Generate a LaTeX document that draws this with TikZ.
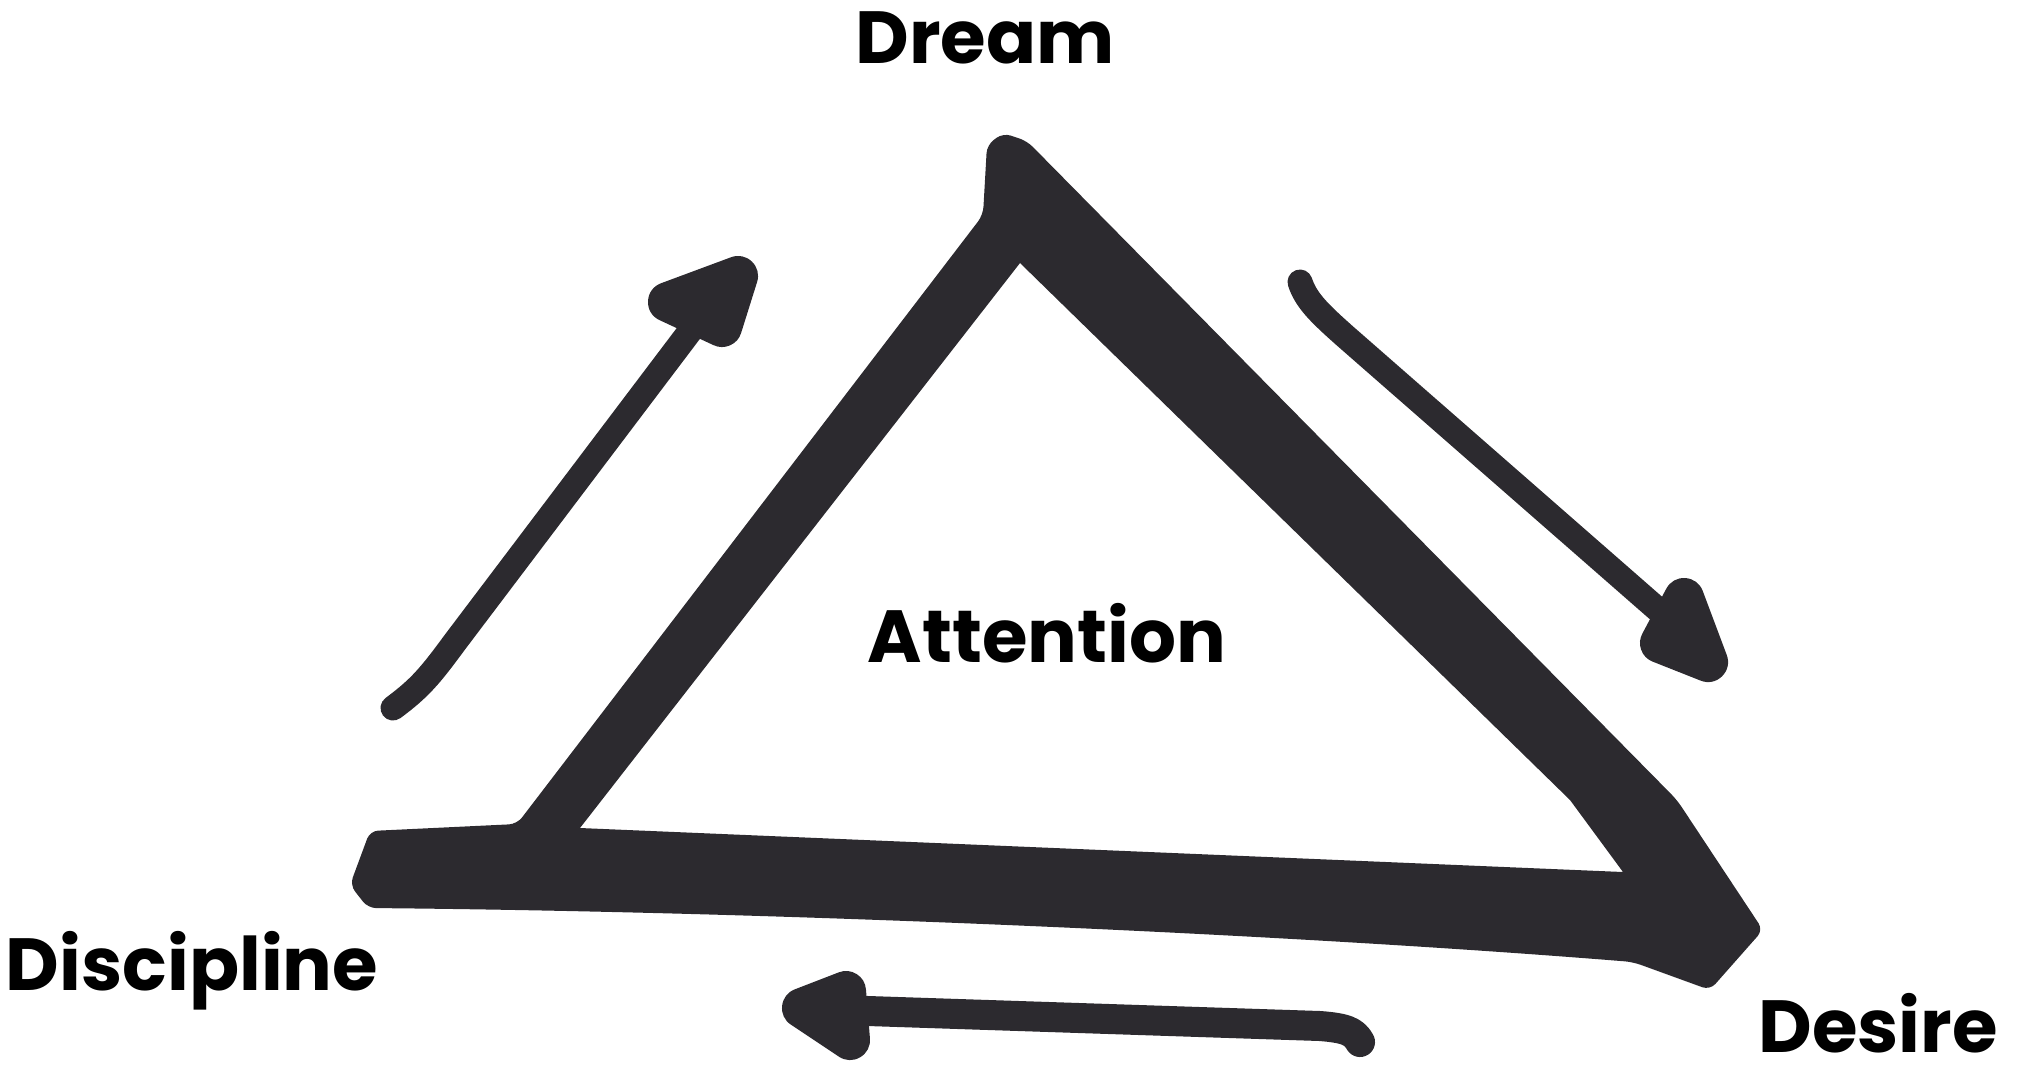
\documentclass[tikz,border=0pt]{standalone}
\usepackage{fontspec}
\setmainfont{Poppins}
\usepackage{tikz}
\definecolor{ink}{RGB}{44,42,47}
\tikzset{
    word/.style={font=\bfseries\fontsize{21}{25}\selectfont, anchor=base, inner sep=0pt},
    shaft/.style={draw=ink, line width=0.25cm, line cap=round, line join=round},
    tiphead/.style={fill=ink, draw=ink, line width=0.4cm, line join=round}
}

\begin{document}
\begin{tikzpicture}[x=0.01cm, y=-0.01cm]
    \useasboundingbox (0,0) rectangle (2024,1072);

    % Triangle
    \fill[ink, even odd rule, rounded corners=0.08cm]
        (1003,133) -- (1027,141) -- (1677,800) -- (1763,930) -- (1710,990) -- (1633,962)
        .. controls (1300,935) and (800,912) .. (368,908) -- (350,885)
        -- (370,831) -- (517,824) -- (983,215) -- (987,145) -- cycle
        [sharp corners] (1020,263) -- (580,828) -- (1623,872) -- (1570,800) -- cycle;

    % Labels
    \node[word] (dream) at (985,63) {Dream};
    \node[word] (attention) at (1047,662) {Attention};
    \node[word] (discipline) at (192,990) {Discipline};
    \node[word] (desire) at (1878,1052) {Desire};

    % Arrows
    \coordinate (upTail) at (393,708);
    \coordinate (upBase) at (700,318);
    \coordinate (downTail) at (1300,282);
    \coordinate (downBase) at (1672,622);
    \coordinate (backTail) at (1360,1042);
    \coordinate (backBase) at (838,1010);

    \draw[shaft] (upTail) .. controls (420,688) and (430,676) .. (455,642) -- (upBase);
    \filldraw[tiphead] (738,276) -- (668,302) -- (722,327) -- cycle;

    \draw[shaft] (downTail) .. controls (1306,300) and (1318,312) .. (1345,336) -- (downBase);
    \filldraw[tiphead] (1708,662) -- (1684,598) -- (1660,643) -- cycle;

    \draw[shaft, line width=0.3cm] (backTail) .. controls (1354,1031) and (1345,1028) .. (1320,1026) -- (backBase);
    \filldraw[tiphead] (802,1008) -- (846,991) -- (850,1040) -- cycle;
\end{tikzpicture}
\end{document}
